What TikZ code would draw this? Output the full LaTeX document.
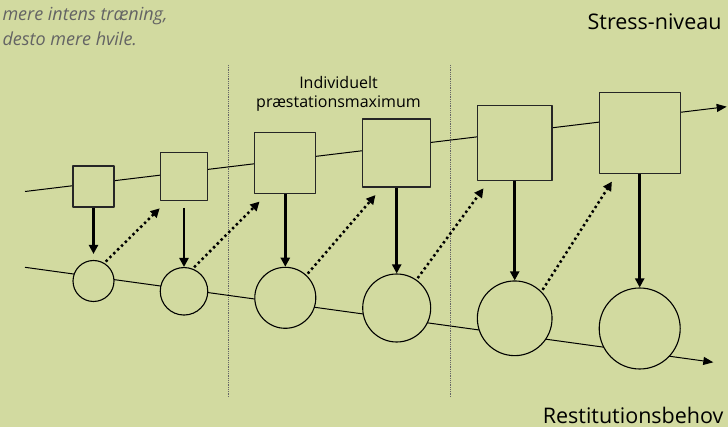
\documentclass[tikz,border=0pt]{standalone}
\usepackage{fontspec}
\setmainfont{Open Sans}
\usetikzlibrary{arrows.meta}
\definecolor{bg}{RGB}{210,218,160}
\definecolor{note}{RGB}{100,100,100}
\begin{document}
\begin{tikzpicture}[x=1pt, y=-1pt, line join=round, >={Triangle[length=10pt,width=8pt]},
		box/.style={draw=black!85, line width=1.2pt, fill=bg, inner sep=0pt, minimum size=#1},
		ball/.style={circle, draw, line width=1.1pt, fill=bg, inner sep=0pt, minimum size=#1},
		load/.style={-{Triangle[length=9pt,width=9pt]}, line width=2.5pt},
		rest/.style={-{Triangle[length=9pt,width=9pt]}, line width=2.5pt, dash pattern=on 2.4pt off 3pt},
		trend/.style={->, line width=1pt},
		border/.style={black!60, line width=0.8pt, densely dotted}]
	\fill[bg] (0,0) rectangle (728,427);
	\useasboundingbox (0,0) rectangle (728,427);
	% section borders
	\draw[border] (228.3,65)--(228.3,397);
	\draw[border] (450.3,65)--(450.3,397);
	% stress and recovery lines
	\coordinate (ts) at (25,191.5);
	\coordinate (te) at (726.7,106.7);
	\coordinate (bs) at (25,267.3);
	\coordinate (be) at (713.3,362.3);
	\draw[trend] (ts)--(te);
	\draw[trend] (bs)--(be);
	\foreach \i/\x/\sy/\cy/\d in {1/93.5/186.5/281/41, 2/184/176.5/291.3/47.5, 3/285.3/163/297.8/61,
			4/396.7/153/308/68, 5/514.7/142.9/318.3/74.7, 6/639.7/133/328.5/81}{
		\node[box=\d] (s\i) at (\x,\sy) {};
		\node[ball=\d] (c\i) at (\x,\cy) {};
	}
	% load -> recovery
	\draw[load, shorten >=6pt] (s1)--(c1);
	\draw[load, shorten <=7pt] (s2)--(c2);
	\foreach \i in {3,...,6}
		\draw[load] (s\i)--(c\i);
	% recovery -> next level
	\foreach \a/\b/\ang/\dx in {1/2/59/0, 2/3/69/5.3, 3/4/47/13.3, 4/5/55/6.7, 5/6/45/13.3}
		\draw[rest, shorten <=2pt] (c\a.\ang)--([shift={(\dx,7.5)}]s\b.south west);
	% labels
	\path (-1,21) node[anchor=base west, text=note, font=\fontsize{18}{25}\selectfont\itshape] (motto1) {mere intens træning,}
		(-1,46) node[anchor=base west, text=note, font=\fontsize{18}{25}\selectfont\itshape] (motto2) {desto mere hvile.}
		(338.5,89) node[anchor=base, font=\fontsize{16}{19}\selectfont] (peak1) {Individuelt}
		(338.5,108) node[anchor=base, font=\fontsize{16}{19}\selectfont] (peak2) {præstationsmaximum}
		(725,30) node[anchor=base east, font=\fontsize{21.5}{26}\selectfont] (stress) {Stress-niveau}
		(727,423) node[anchor=base east, font=\fontsize{21.5}{26}\selectfont] (recov) {Restitutionsbehov};
\end{tikzpicture}
\end{document}
